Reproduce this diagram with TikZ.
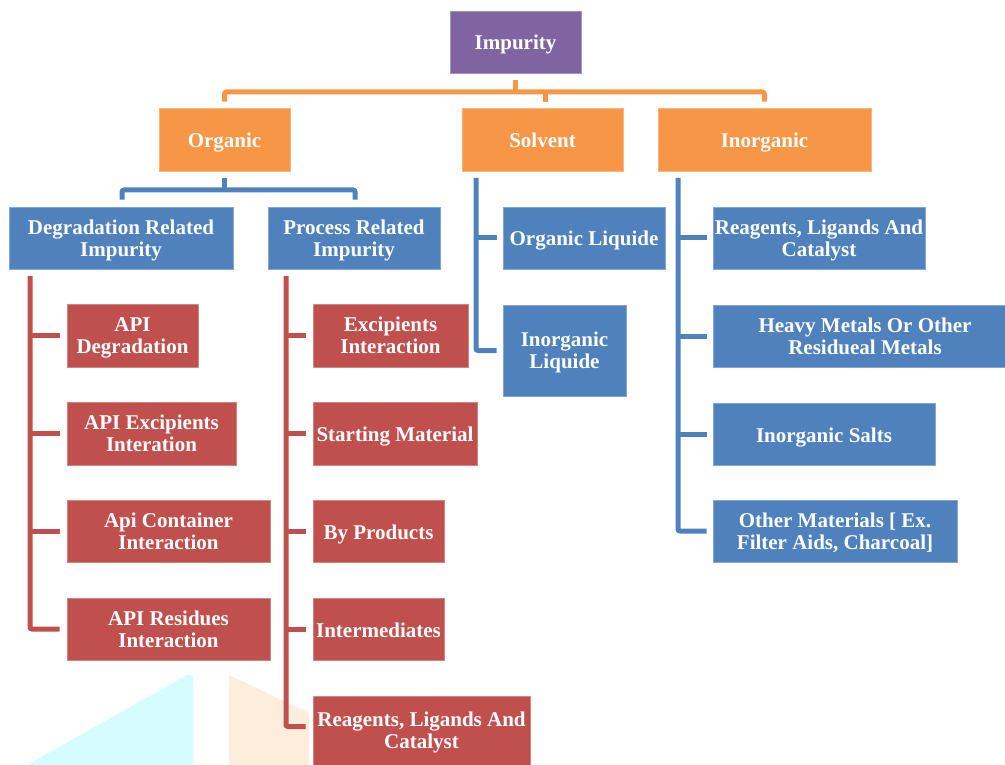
\documentclass[tikz,border=0pt]{standalone}
\usepackage{fontspec}
\setmainfont{Liberation Serif}
\definecolor{cpurple}{HTML}{8064A2}
\definecolor{corange}{HTML}{F79646}
\definecolor{cblue}{HTML}{4F81BD}
\definecolor{cred}{HTML}{C0504D}
\definecolor{ccyan}{HTML}{D5FCFE}
\definecolor{cpeach}{HTML}{FDEEDC}
\tikzset{
  bx/.style={inner sep=0pt, align=center, text=white,
    font=\fontsize{21}{22}\selectfont\bfseries, text height=18pt, text depth=2pt},
  two/.style={text height=38.5pt, text depth=2pt},
  pbox/.style={bx, fill=cpurple, draw=cpurple!70!white, line width=0.6pt},
  obox/.style={bx, fill=corange, draw=corange!70!white, line width=0.6pt},
  bbox/.style={bx, fill=cblue, draw=cblue!70!white, line width=0.6pt},
  rbox/.style={bx, fill=cred, draw=cred!70!white, line width=0.6pt},
  oline/.style={draw=corange, line width=5pt, rounded corners=2pt},
  bline/.style={draw=cblue, line width=5pt, rounded corners=2pt},
  rline/.style={draw=cred, line width=5pt, rounded corners=2pt},
}
\begin{document}
\begin{tikzpicture}[x=1pt,y=-1pt]
\useasboundingbox (0,0) rectangle (1005,765);
% background shapes
\fill[ccyan] (27,765) -- (187,675) -- (193,675) -- (193,765) -- cycle;
\fill[cpeach] (229,675) -- (309,713) -- (309,765) -- (229,765) -- cycle;

% nodes
\node[pbox, minimum width=131pt, minimum height=62pt] (imp) at (515.5,42) {Impurity};
\node[obox, minimum width=131pt, minimum height=63pt] (org) at (224.5,139.5) {Organic};
\node[obox, minimum width=161pt, minimum height=63pt] (sol) at (542.5,139.5) {Solvent};
\node[obox, minimum width=213pt, minimum height=63pt] (inorg) at (764.5,139.5) {Inorganic};

\node[bbox, two, minimum width=224pt, minimum height=62pt] (deg) at (121,238) {Degradation Related\\Impurity};
\node[bbox, two, minimum width=172pt, minimum height=62pt] (proc) at (354,238) {Process Related\\Impurity};
\node[bbox, minimum width=162pt, minimum height=62pt] (orgliq) at (584,238) {Organic Liquide};
\node[bbox, two, minimum width=123pt, minimum height=91pt] (inorgliq) at (564.5,350.5) {Inorganic\\Liquide};

\node[bbox, two, minimum width=212pt, minimum height=62pt] (rlc) at (819,238) {Reagents, Ligands And\\Catalyst};
\node[bbox, two, minimum width=292pt, minimum height=62pt] (heavy) at (859,336) {\hspace*{12pt}Heavy Metals Or Other\\\hspace*{12pt}Residueal Metals};
\node[bbox, minimum width=222pt, minimum height=62pt] (salts) at (824,434) {Inorganic Salts};
\node[bbox, two, minimum width=244pt, minimum height=62pt] (other) at (835,531) {Other Materials [ Ex.\\Filter Aids, Charcoal]};

\node[rbox, two, minimum width=131pt, minimum height=63pt] (apideg) at (132.5,335.5) {API\\Degradation};
\node[rbox, two, minimum width=169pt, minimum height=63pt] (apiexc) at (151.5,433.5) {API Excipients\\Interation};
\node[rbox, two, minimum width=203pt, minimum height=62pt] (apicont) at (168.5,531) {Api Container\\Interaction};
\node[rbox, two, minimum width=203pt, minimum height=62pt] (apires) at (168.5,629) {API Residues\\Interaction};

\node[rbox, two, minimum width=155pt, minimum height=63pt] (excint) at (390.5,335.5) {Excipients\\Interaction};
\node[rbox, minimum width=164pt, minimum height=63pt] (start) at (395,433.5) {Starting Material};
\node[rbox, minimum width=131pt, minimum height=62pt] (byp) at (378.5,531) {By Products};
\node[rbox, minimum width=131pt, minimum height=62pt] (inter) at (378.5,629) {Intermediates};
\node[rbox, two, minimum width=217pt, minimum height=69pt] (rlc2) at (421.5,730.5) {Reagents, Ligands And\\Catalyst};

% coordinates
\coordinate (obar) at (515,92);
\coordinate (bbar) at (225,190);
\coordinate (sv) at (476,178);
\coordinate (iv) at (678,178);
\coordinate (dv) at (30,276);
\coordinate (pv) at (286,276);

% orange connectors
\draw[oline] ([yshift=-7pt]imp.south) -- (imp.south |- obar);
\draw[oline] ([yshift=6pt]org.north) -- (org.north |- obar) -- (inorg.north |- obar) -- ([yshift=6pt]inorg.north);
\draw[oline] ([xshift=3pt,yshift=6pt]sol.north) -- ([xshift=3pt]sol.north |- obar);

% blue connectors from Organic
\draw[bline] ([yshift=-7pt]org.south) -- (org.south |- bbar);
\draw[bline] ([xshift=1pt,yshift=7pt]deg.north) -- ([xshift=1pt]deg.north |- bbar) -- ([xshift=1pt]proc.north |- bbar) -- ([xshift=1pt,yshift=7pt]proc.north);

% solvent
\draw[bline] (sv) |- ([xshift=-6pt]inorgliq.west);
\draw[bline] (sv |- orgliq.west) -- ([xshift=-6pt]orgliq.west);

% inorganic
\draw[bline] (iv) |- ([xshift=-6pt]other.west);
\draw[bline] (iv |- rlc.west) -- ([xshift=-6pt]rlc.west);
\draw[bline] (iv |- heavy.west) -- ([xshift=-6pt]heavy.west);
\draw[bline] (iv |- salts.west) -- ([xshift=-6pt]salts.west);

% degradation
\draw[rline] (dv) |- ([xshift=-7pt]apires.west);
\draw[rline] (dv |- apideg.west) -- ([xshift=-7pt]apideg.west);
\draw[rline] (dv |- apiexc.west) -- ([xshift=-7pt]apiexc.west);
\draw[rline] (dv |- apicont.west) -- ([xshift=-7pt]apicont.west);

% process
\draw[rline] (pv) |- ([xshift=-7pt,yshift=4pt]rlc2.west);
\draw[rline] (pv |- excint.west) -- ([xshift=-7pt]excint.west);
\draw[rline] (pv |- start.west) -- ([xshift=-7pt]start.west);
\draw[rline] (pv |- byp.west) -- ([xshift=-7pt]byp.west);
\draw[rline] (pv |- inter.west) -- ([xshift=-7pt]inter.west);
\end{tikzpicture}
\end{document}
